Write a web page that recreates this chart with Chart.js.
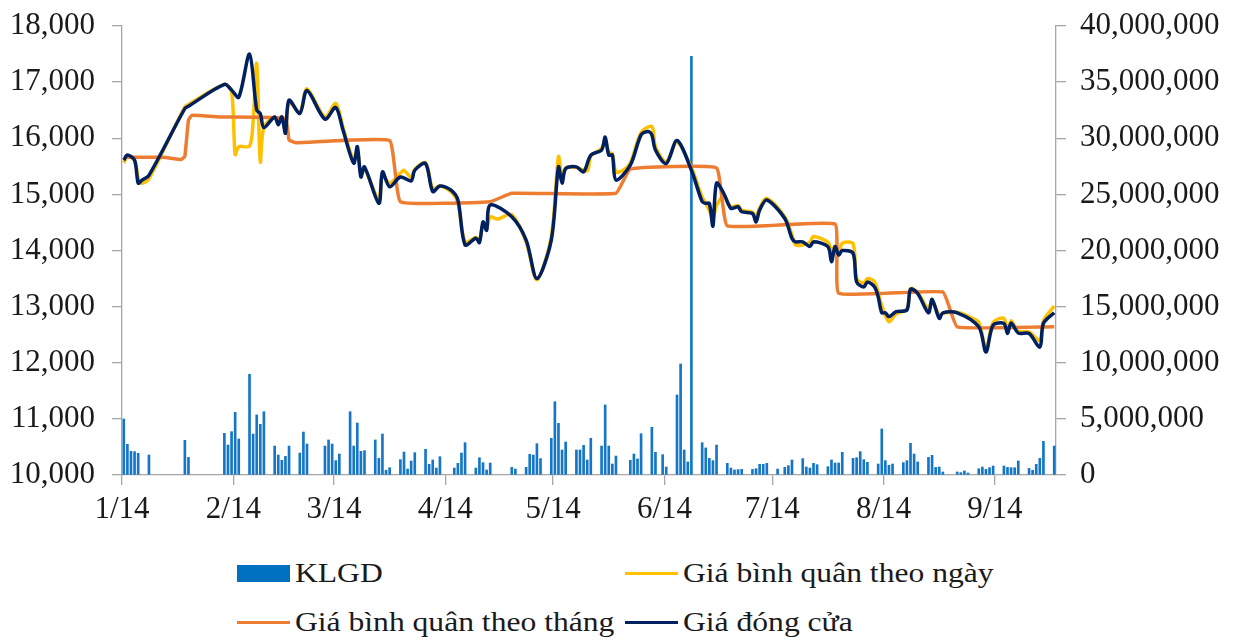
<!DOCTYPE html>
<html>
<head>
<meta charset="utf-8">
<script src="https://cdn.jsdelivr.net/npm/chart.js@4/dist/chart.umd.min.js"></script>
<style>
    body { margin: 0; background: #fff; }
    #wrap { position: relative; width: 1235px; height: 641px; }
    #chart { position: absolute; left: 0; top: 0; }
    .sym { position: absolute; width: 53px; }
    .lbl {
        position: absolute;
        font-family: 'Liberation Serif', 'Times New Roman', serif;
        font-size: 27px;
        line-height: 27px;
        color: #1a1a1a;
        white-space: nowrap;
        transform: scaleX(1.17);
        transform-origin: left top;
    }
</style>
</head>
<body>
<div id="wrap">
    <canvas id="chart" width="1235" height="530"></canvas>
    <div id="legend"></div>
</div>
<script>
// x values are day-of-year in 2014 (1 = 1/1/2014)
const tickDates = ['2014-01-01', '2014-02-01', '2014-03-01', '2014-04-01', '2014-05-01',
    '2014-06-01', '2014-07-01', '2014-08-01', '2014-09-01'];
const tickLabels = ['1/14', '2/14', '3/14', '4/14', '5/14', '6/14', '7/14', '8/14', '9/14'];

// KLGD (khoi luong giao dich)
const volDay = [1, 2, 3, 4, 5, 8, 18, 19, 29, 30, 31, 32, 33, 36, 37, 38, 39, 40, 43, 44, 45, 46, 47,
    50, 51, 52, 57, 58, 59, 60, 61, 64, 65, 66, 67, 68, 71, 72, 73, 74, 75, 78, 79, 80, 81, 82,
    85, 86, 87, 88, 89, 93, 94, 95, 96, 99, 100, 101, 102, 103, 109, 110, 113, 114, 115, 116, 117,
    120, 121, 122, 123, 124, 127, 128, 129, 130, 131, 134, 135, 136, 137, 138, 142, 143, 144, 145,
    148, 149, 151, 152, 155, 156, 157, 158, 159, 162, 163, 164, 165, 166, 169, 170, 171, 172, 173,
    176, 177, 178, 179, 180, 183, 185, 186, 187, 190, 191, 192, 193, 194, 197, 198, 199, 200, 201,
    204, 205, 206, 207, 208, 211, 212, 213, 214, 215, 218, 219, 220, 221, 222, 225, 226, 227, 228, 229,
    233, 234, 235, 236, 239, 240, 241, 242, 243, 246, 247, 248, 249, 250, 253, 254, 255, 256, 257, 260];
const volValue = [4990000, 2730000, 2110000, 2080000, 1930000, 1780000, 3090000, 1570000,
    3710000, 2670000, 3860000, 5580000, 3210000, 8970000, 3650000, 5350000, 4510000, 5640000,
    2580000, 1780000, 1310000, 1660000, 2580000, 1960000, 3830000, 2760000,
    2580000, 3120000, 2760000, 1280000, 1870000, 5640000, 2580000, 4630000, 2110000, 2170000,
    3120000, 1480000, 3650000, 420000, 650000, 1370000, 2050000, 530000, 1250000, 1990000,
    2290000, 950000, 1340000, 620000, 1630000, 620000, 1040000, 1960000, 2880000,
    620000, 1540000, 1100000, 450000, 1070000, 680000, 530000, 680000, 1840000, 1780000, 2790000, 1460000,
    3270000, 6530000, 4600000, 2230000, 2940000, 2230000, 2230000, 2640000, 1340000, 3270000,
    2580000, 6240000, 2580000, 980000, 1690000, 1310000, 1870000, 1430000, 3680000,
    4250000, 2020000, 1810000, 710000, 7130000, 9890000, 2230000, 1160000, 37300000,
    2880000, 2410000, 1480000, 1280000, 2670000, 1040000, 620000, 450000, 480000, 500000,
    500000, 560000, 950000, 950000, 1040000, 530000, 680000, 830000, 1340000,
    1460000, 710000, 620000, 1040000, 920000, 740000, 1340000, 1070000, 1070000, 2020000,
    1480000, 1540000, 2080000, 1370000, 1130000, 980000, 4100000, 1280000, 860000, 980000,
    1100000, 1280000, 2820000, 1870000, 1160000, 1570000, 1750000, 680000, 710000, 270000,
    270000, 210000, 360000, 180000, 560000, 710000, 500000, 650000, 800000,
    800000, 680000, 650000, 650000, 1250000, 590000, 420000, 950000, 1480000, 3000000, 2580000];

// Gia binh quan theo ngay
const dailyDay = [1, 2, 4, 5, 6, 8, 18, 19, 29, 31, 32, 33, 36, 37, 38, 39, 40, 43, 44, 45, 46, 47,
    50, 52, 57, 60, 62, 65, 66, 67, 68, 72, 73, 75, 78, 79, 81, 82, 85, 87, 89, 92, 94, 96,
    99, 100, 101, 102, 103, 105, 109, 113, 116, 120, 122, 123, 124, 127, 130, 131, 134, 135, 136, 137,
    138, 140, 142, 145, 148, 149, 152, 155, 159, 162, 163, 165, 166, 168, 170, 172, 173, 176, 177, 178,
    180, 185, 187, 188, 190, 192, 193, 197, 198, 199, 200, 201, 204, 205, 207, 208, 210, 212, 214, 216,
    219, 220, 222, 225, 226, 228, 229, 233, 237, 239, 241, 243, 246, 247, 248, 250, 253, 256, 257, 260];
const dailyValue = [15560, 15680, 15600, 15300, 15200, 15280, 16560, 16600, 16960, 16830, 15710, 15850,
    15860, 16300, 17330, 15580, 16200, 16380, 16260, 16380, 16130, 16640, 16460, 16880, 16380, 16620,
    16200, 15600, 15800, 15380, 15460, 14900, 15350, 15200, 15380, 15430, 15300, 15450, 15560, 15100,
    15150, 15050, 14850, 14150, 14230, 14180, 14450, 14400, 14600, 14560, 14640, 14150, 13480, 14250,
    15670, 15300, 15470, 15480, 15420, 15680, 15820, 15950, 15750, 15720, 15400, 15430, 15560, 16100,
    16210, 15850, 15580, 15930, 15480, 14950, 14850, 14600, 14800, 14980, 14780, 14800, 14720, 14680,
    14600, 14760, 14930, 14600, 14280, 14100, 14100, 14150, 14250, 14150, 14000, 14080, 13950, 14130,
    14120, 13500, 13420, 13500, 13440, 13020, 12730, 12870, 12960, 13320, 13250, 12950, 13100, 12850,
    12880, 12900, 12800, 12720, 12250, 12720, 12790, 12560, 12750, 12560, 12550, 12400, 12750, 13010];

// Gia binh quan theo thang
const monthlyDay = [1, 12, 17, 18, 19, 20, 28, 46, 47, 49, 75, 78, 103, 109, 138, 142, 166, 169,
    199, 200, 229, 233, 260];
const monthlyValue = [15660, 15660, 15620, 15680, 16320, 16410, 16380, 16350, 15970, 15920, 15960,
    14870, 14870, 15020, 15020, 15450, 15470, 14440, 14470, 13240, 13260, 12640, 12640];

// Gia dong cua
const closeDay = [1, 2, 4, 5, 6, 8, 18, 19, 29, 31, 33, 36, 38, 39, 40, 43, 44, 45, 46, 47, 50, 52,
    57, 60, 62, 65, 66, 67, 68, 72, 73, 75, 78, 81, 82, 85, 87, 89, 92, 94, 96, 99, 100, 101, 102,
    103, 109, 113, 116, 120, 122, 123, 124, 127, 129, 131, 134, 135, 136, 137, 138, 142, 145, 147,
    148, 149, 152, 155, 159, 162, 163, 164, 165, 166, 168, 170, 172, 173, 176, 177, 178, 180, 185,
    187, 188, 190, 192, 193, 197, 198, 199, 200, 201, 204, 205, 207, 208, 210, 211, 212, 213, 214,
    216, 219, 220, 222, 225, 226, 228, 229, 233, 239, 241, 243, 246, 247, 248, 250, 253, 256, 257, 260];
const closeValue = [15610, 15700, 15610, 15200, 15250, 15340, 16530, 16570, 16960, 16860, 16730,
    17500, 16500, 16440, 16190, 16380, 16240, 16380, 16090, 16680, 16440, 16850, 16340, 16550, 16150,
    15555, 15850, 15310, 15490, 14840, 15400, 15135, 15310, 15240, 15430, 15550, 15050, 15150, 15080,
    14900, 14100, 14220, 14140, 14510, 14360, 14810, 14600, 14185, 13500, 14185, 15490, 15200, 15460,
    15490, 15400, 15700, 15790, 16020, 15700, 15700, 15255, 15520, 16060, 16120, 16060, 15790, 15550,
    15960, 15430, 14870, 14840, 14840, 14435, 15200, 15020, 14750, 14780, 14690, 14660, 14510, 14720,
    14900, 14570, 14215, 14155, 14155, 14070, 14155, 14070, 13800, 14070, 13920, 14000, 13950, 13440,
    13350, 13440, 13350, 13175, 12890, 12890, 12820, 12910, 12940, 13310, 13235, 12890, 13130, 12790,
    12890, 12890, 12640, 12190, 12670, 12700, 12520, 12710, 12530, 12520, 12280, 12700, 12890];

const FONT = "'Liberation Serif', 'Times New Roman', serif";
const AXIS_GREY = '#a6a6a6';
const TEXT = '#1a1a1a';

function dayOfYear(iso) {
    const [y, m, d] = iso.split('-').map(Number);
    return (Date.UTC(y, m - 1, d) - Date.UTC(y, 0, 1)) / 86400000 + 1;
}

function toPoints(days, values) {
    return days.map((d, i) => ({ x: d, y: values[i] }));
}

// fixed axis box sizes so the plot area lines up with the original
function fitWidth(w) {
    return scale => {
        scale.width = w;
        scale.paddingTop = 0;
        scale.paddingBottom = 0;
    };
}

// a tick sits on the left edge of its day slot
const tickValues = tickDates.map(d => dayOfYear(d) - 0.5);

const ctx = document.getElementById('chart');
new Chart(ctx, {
    type: 'line',
    data: {
        datasets: [
            {
                type: 'bar',
                label: 'KLGD',
                data: toPoints(volDay, volValue),
                yAxisID: 'yVol',
                backgroundColor: '#1576c6',
                barThickness: 2,
                order: 4
            },
            {
                label: 'Giá bình quân theo ngày',
                data: toPoints(dailyDay, dailyValue),
                yAxisID: 'y',
                borderColor: '#FFC000',
                borderWidth: 3.5,
                tension: 0.3,
                pointRadius: 0,
                order: 3
            },
            {
                label: 'Giá bình quân theo tháng',
                data: toPoints(monthlyDay, monthlyValue),
                yAxisID: 'y',
                borderColor: '#ED7D31',
                borderWidth: 3.5,
                tension: 0.1,
                pointRadius: 0,
                order: 2
            },
            {
                label: 'Giá đóng cửa',
                data: toPoints(closeDay, closeValue),
                yAxisID: 'y',
                borderColor: '#002060',
                borderWidth: 3.5,
                tension: 0.3,
                pointRadius: 0,
                order: 1
            }
        ]
    },
    options: {
        responsive: false,
        animation: false,
        layout: { padding: { top: 26, left: 0, right: 0, bottom: 0 } },
        plugins: {
            legend: { display: false },
            tooltip: { enabled: false }
        },
        scales: {
            x: {
                type: 'linear',
                min: tickValues[0],
                max: 260.5,
                offset: false,
                afterBuildTicks: scale => {
                    scale.ticks = tickValues.map(v => ({ value: v }));
                },
                afterFit: scale => { scale.height = 55; },
                ticks: {
                    autoSkip: false,
                    maxRotation: 0,
                    padding: 6,
                    color: TEXT,
                    font: { family: FONT, size: 31 },
                    callback: (value, index) => tickLabels[index]
                },
                grid: { drawOnChartArea: false, offset: false, tickLength: 10, color: AXIS_GREY, lineWidth: 1.3 },
                border: { color: AXIS_GREY, width: 1.3 }
            },
            y: {
                position: 'left',
                min: 10000,
                max: 18000,
                afterFit: fitWidth(122),
                ticks: {
                    stepSize: 1000,
                    padding: 17,
                    color: TEXT,
                    font: { family: FONT, size: 31 },
                    callback: v => v.toLocaleString('en-US')
                },
                grid: { drawOnChartArea: false, tickLength: 10, color: AXIS_GREY, lineWidth: 1.3 },
                border: { color: AXIS_GREY, width: 1.3 }
            },
            yVol: {
                position: 'right',
                min: 0,
                max: 40000000,
                afterFit: fitWidth(179),
                ticks: {
                    stepSize: 5000000,
                    padding: 14,
                    color: TEXT,
                    font: { family: FONT, size: 31 },
                    callback: v => v.toLocaleString('en-US')
                },
                grid: { drawOnChartArea: false, tickLength: 10, color: AXIS_GREY, lineWidth: 1.3 },
                border: { color: AXIS_GREY, width: 1.3 }
            }
        }
    }
});

// legend laid out as a 2-column grid like the original
const legendItems = [
    { text: 'KLGD', color: '#0070C0', box: true, col: 0, row: 0 },
    { text: 'Giá bình quân theo ngày', color: '#FFC000', box: false, col: 1, row: 0 },
    { text: 'Giá bình quân theo tháng', color: '#ED7D31', box: false, col: 0, row: 1 },
    { text: 'Giá đóng cửa', color: '#002060', box: false, col: 1, row: 1 }
];
const colX = [237, 625];
const rowMid = [573.5, 622.5];
const legend = document.getElementById('legend');
legendItems.forEach(item => {
    const sym = document.createElement('div');
    sym.className = 'sym';
    const h = item.box ? 17 : 3.5;
    sym.style.left = colX[item.col] + 'px';
    sym.style.top = (rowMid[item.row] - h / 2) + 'px';
    sym.style.height = h + 'px';
    sym.style.background = item.color;
    legend.appendChild(sym);

    const lbl = document.createElement('div');
    lbl.className = 'lbl';
    lbl.textContent = item.text;
    lbl.style.left = (colX[item.col] + 58) + 'px';
    lbl.style.top = (rowMid[item.row] - 14) + 'px';
    legend.appendChild(lbl);
});
</script>
</body>
</html>
